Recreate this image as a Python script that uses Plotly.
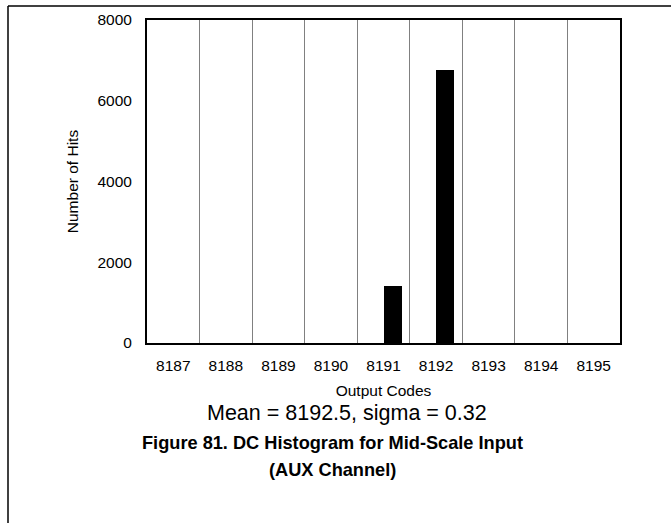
import plotly.graph_objects as go

codes = [8187, 8188, 8189, 8190, 8191, 8192, 8193, 8194, 8195]
hits = [0, 0, 0, 0, 1410, 6760, 0, 0, 0]
y_ticks = [0, 2000, 4000, 6000, 8000]
x_title = "Output Codes"
y_title = "Number of Hits"
stats_text = "Mean = 8192.5, sigma = 0.32"
caption_lines = ["Figure 81. DC Histogram for Mid-Scale Input", "(AUX Channel)"]

W, H = 671, 523
L, R, T, B = 147, 51, 20, 180
pw, ph = W - L - R, H - T - B

def px_x(x):
    return (x - L) / pw

def px_y(y):
    return (H - B - y) / ph

FONT = "Liberation Sans, Arial, sans-serif"

fig = go.Figure()
fig.add_trace(go.Bar(
    x=codes, y=hits, width=0.35, offset=0,
    marker=dict(color="black", line=dict(width=0)),
))

fig.update_layout(
    width=W, height=H,
    margin=dict(l=L, r=R, t=T, b=B),
    paper_bgcolor="white", plot_bgcolor="white",
    font=dict(family=FONT, size=15.5, color="black"),
    showlegend=False,
    bargap=0,
)
fig.update_xaxes(
    range=[codes[0] - 0.5, codes[-1] + 0.5],
    tickvals=codes, ticktext=[str(c) for c in codes],
    showgrid=False, zeroline=False,
    showline=True, linecolor="black", linewidth=2, mirror=True,
    ticks="", ticklabelstandoff=7,
    tickfont=dict(size=15.5),
    title=dict(text=x_title, font=dict(size=15.5), standoff=13),
    minor=dict(tick0=codes[0] - 0.5, dtick=1, showgrid=True, gridcolor="#808080", gridwidth=1, ticks=""),
)
fig.update_yaxes(
    range=[0, y_ticks[-1]],
    tickvals=y_ticks,
    showgrid=False, zeroline=False,
    showline=True, linecolor="black", linewidth=2, mirror=True,
    ticks="", ticklabelstandoff=10,
    tickfont=dict(size=15.5),
    title=dict(text=y_title, font=dict(size=15.5), standoff=15),
)

fig.add_annotation(
    text=stats_text, xref="paper", yref="paper",
    x=px_x(347), y=px_y(413), xanchor="center", yanchor="middle",
    showarrow=False, font=dict(size=21.5),
)
fig.add_annotation(
    text="<b>" + caption_lines[0] + "</b>", xref="paper", yref="paper",
    x=px_x(332), y=px_y(443), xanchor="center", yanchor="middle",
    showarrow=False, font=dict(size=18.2),
)
fig.add_annotation(
    text="<b>" + caption_lines[1] + "</b>", xref="paper", yref="paper",
    x=px_x(332), y=px_y(470), xanchor="center", yanchor="middle",
    showarrow=False, font=dict(size=18.2),
)

# outer figure frame (top and left edges)
fig.add_shape(type="line", xref="paper", yref="paper",
              x0=px_x(8), x1=px_x(W), y0=px_y(6), y1=px_y(6),
              line=dict(color="black", width=1.5))
fig.add_shape(type="line", xref="paper", yref="paper",
              x0=px_x(8), x1=px_x(8), y0=px_y(6), y1=px_y(H),
              line=dict(color="black", width=1.5))

fig.write_html(
    "out.html",
    config={"displayModeBar": False},
    post_script="document.body.style.margin='0';document.body.style.overflow='hidden';",
)
